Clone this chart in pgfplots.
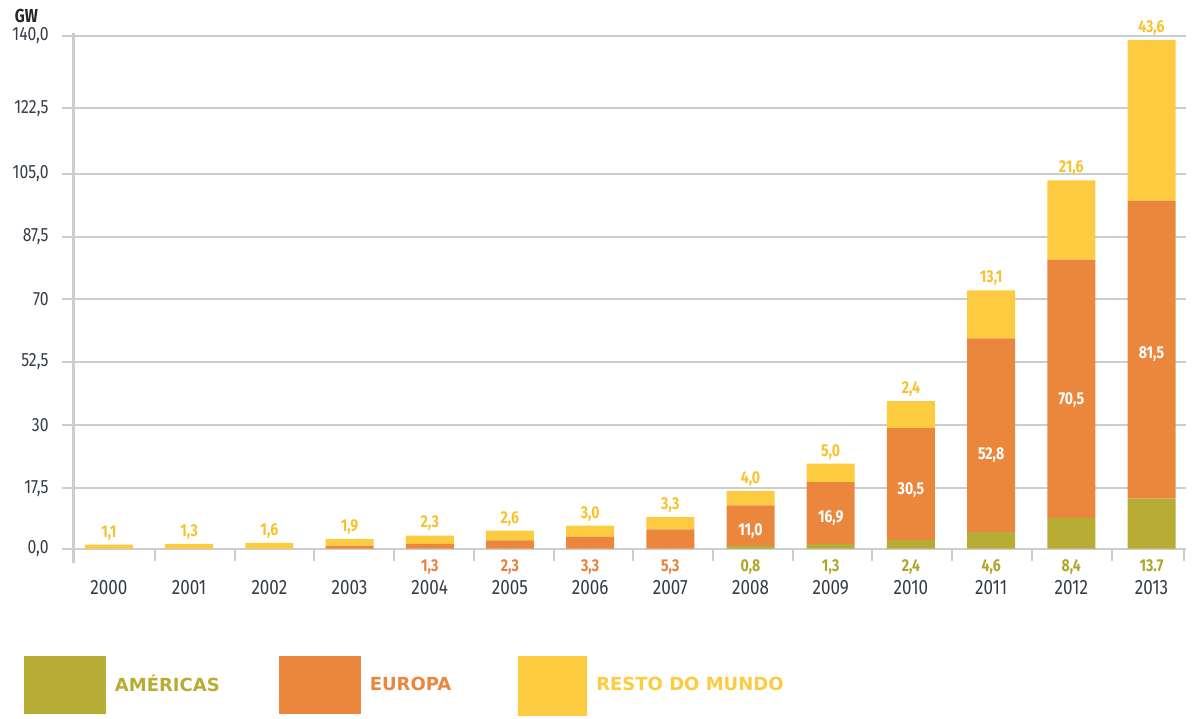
\documentclass[border=0pt]{standalone}
\usepackage{fontspec}
\usepackage{pgfplots}
\usepackage{pgfplotstable}
\pgfplotsset{compat=1.18}
\usetikzlibrary{calc}
\newfontfamily\cf{Fira Sans}[FakeStretch=0.82]
\newfontfamily\lf{DejaVu Sans}
\definecolor{cA}{HTML}{B7AC34}
\definecolor{cE}{HTML}{EA873C}
\definecolor{cR}{HTML}{FCCB40}
\definecolor{tA}{HTML}{ADA52C}
\definecolor{tE}{HTML}{E9803A}
\definecolor{tR}{HTML}{F8C22E}
\definecolor{tk}{HTML}{363B48}
\definecolor{gr}{HTML}{CDCDCD}

\pgfplotstableread{
x A E R
0 0 0 1.1
1 0 0 1.3
2 0 0 1.6
3 0 0.7 1.9
4 0 1.3 2.3
5 0 2.3 2.6
6 0 3.3 3.0
7 0 5.3 3.3
8 0.8 11.0 4.0
9 1.3 16.9 5.0
10 2.4 30.5 7.4
11 4.6 52.8 13.1
12 8.4 70.5 21.6
13 13.7 81.3 43.8
}\bardata

% yellow labels, placed at the top of each stack (total height)
\pgfplotstableread{
x y lab
0 1.1 1,1
1 1.3 1,3
2 1.6 1,6
3 2.6 1,9
4 3.6 2,3
5 4.9 2,6
6 6.3 3,0
7 8.6 3,3
8 15.8 4,0
9 23.2 5,0
10 40.3 2,4
11 70.5 13,1
12 100.5 21,6
13 138.8 43,6
}\toplab

\pgfplotstableread{
x y lab
4 0 1,3
5 0 2,3
6 0 3,3
7 0 5,3
}\eurlab

\pgfplotstableread{
x y lab
8 0 0,8
9 0 1,3
10 0 2,4
11 0 4,6
12 0 8,4
13 0 13.7
}\amlab

\pgfplotstableread{
x y lab
8 4.8 11,0
9 8.4 16,9
10 16.0 30,5
11 25.6 52,8
12 40.6 70,5
13 53.2 81,5
}\wlab

\pgfplotstableread{
x y lab
0 0 2000
1 0 2001
2 0 2002
3 0 2003
4 0 2004
5 0 2005
6 0 2006
7 0 2007
8 0 2008
9 0 2009
10 0 2010
11 0 2011
12 0 2012
13 0 2013
}\years

\pgfplotsset{
  common/.style={
    scale only axis, width=556pt, height=256.5pt,
    xmin=-0.436, xmax=13.43, ymin=0, ymax=140,
    clip=false, at={(0,0)}, anchor=origin,
  },
  labplot/.style={only marks, mark=*, mark size=0pt,
    scatter/use mapped color={draw=none, fill=none},
    nodes near coords, point meta=explicit symbolic},
  legbig/.style={legend image code/.code={\fill[##1,draw=none] (0pt,-14.5pt) rectangle (41pt,14.5pt);}},
  legsmall/.style={legend image code/.code={\fill[##1,draw=none] (0pt,-15.5pt) rectangle (34.5pt,14.5pt);}},
}

\begin{document}
\begin{tikzpicture}
\begin{axis}[common,
  ybar stacked, bar width=24pt,
  axis line style={draw=none},
  tick pos=left, tick align=outside,
  major tick length=6pt,
  major tick style={gr, line width=1pt},
  ymajorgrids, grid style={gr, line width=1pt},
  ytick={0,16.5,33.8,51.0,68.1,85.1,102.3,120.2,140},
  yticklabels={{0,0},{17,5},{30},{52,5},{70},{87,5},{105,0},{122,5},{140,0}},
  yticklabel style={font=\cf\fontsize{9.6}{11}\selectfont, text=tk, anchor=east, inner sep=0pt, xshift=-6.5pt},
  xtick={0.574,1.568,2.562,3.556,4.550,5.544,6.538,7.532,8.526,9.520,10.514,11.508,12.502,13.41},
  xticklabel=\empty,
  ylabel={\bfseries GW},
  ylabel style={at={(rel axis cs:0,1)}, rotate=-90, anchor=center, xshift=-23.75pt, yshift=9.85pt, font=\cf\fontsize{9.4}{11}\selectfont, text=black!85},
  legend style={draw=none, fill=none, inner sep=0pt, outer sep=0pt,
    at={(rel axis cs:-0.045,-0.2092)}, anchor=north west,
    font=\lf\bfseries\fontsize{9}{10}\selectfont,
    nodes={inner sep=0pt, anchor=west},
    /tikz/every odd column/.append style={column sep=4.5pt},
    /tikz/column 2/.style={column sep=29.5pt},
    /tikz/column 4/.style={column sep=33.5pt}},
  legend columns=3,
]
\addplot[fill=cA, draw=none, legbig] table[x=x, y=A] \bardata;
\addlegendentry{\textcolor{cA}{AMÉRICAS}}
\addplot[fill=cE, draw=none, legbig] table[x=x, y=E] \bardata;
\addlegendentry{\textcolor{cE}{EUROPA}}
\addplot[fill=cR, draw=none, legsmall] table[x=x, y=R] \bardata;
\addlegendentry{\textcolor{cR}{RESTO DO MUNDO}}
\draw[gr, line width=1.5pt] (rel axis cs:0,-0.028) -- (rel axis cs:0,1.005);
\coordinate (A) at (rel axis cs:0,0);
\end{axis}

\begin{axis}[common, hide axis]
\addplot[labplot, every node near coord/.append style={anchor=base, yshift=-23.1pt, inner sep=0pt, text=tk, font=\cf\fontsize{10.4}{12}\selectfont}] table[x=x, y=y, meta=lab] \years;
\addplot[labplot, every node near coord/.append style={anchor=base, yshift=3.8pt, inner sep=0pt, text=tR, font=\cf\bfseries\fontsize{8.6}{10}\selectfont}] table[x=x, y=y, meta=lab] \toplab;
\addplot[labplot, every node near coord/.append style={anchor=base, yshift=-11.6pt, inner sep=0pt, text=tE, font=\cf\bfseries\fontsize{8.6}{10}\selectfont}] table[x=x, y=y, meta=lab] \eurlab;
\addplot[labplot, every node near coord/.append style={anchor=base, yshift=-11.6pt, inner sep=0pt, text=tA, font=\cf\bfseries\fontsize{8.6}{10}\selectfont}] table[x=x, y=y, meta=lab] \amlab;
\addplot[labplot, every node near coord/.append style={anchor=center, inner sep=0pt, text=white, font=\cf\bfseries\fontsize{8.6}{10}\selectfont}] table[x=x, y=y, meta=lab] \wlab;
\end{axis}

\pgfresetboundingbox
\path ($(A)+(-37pt,-84.65pt)$) rectangle ($(A)+(560pt,274.35pt)$);
\end{tikzpicture}
\end{document}
